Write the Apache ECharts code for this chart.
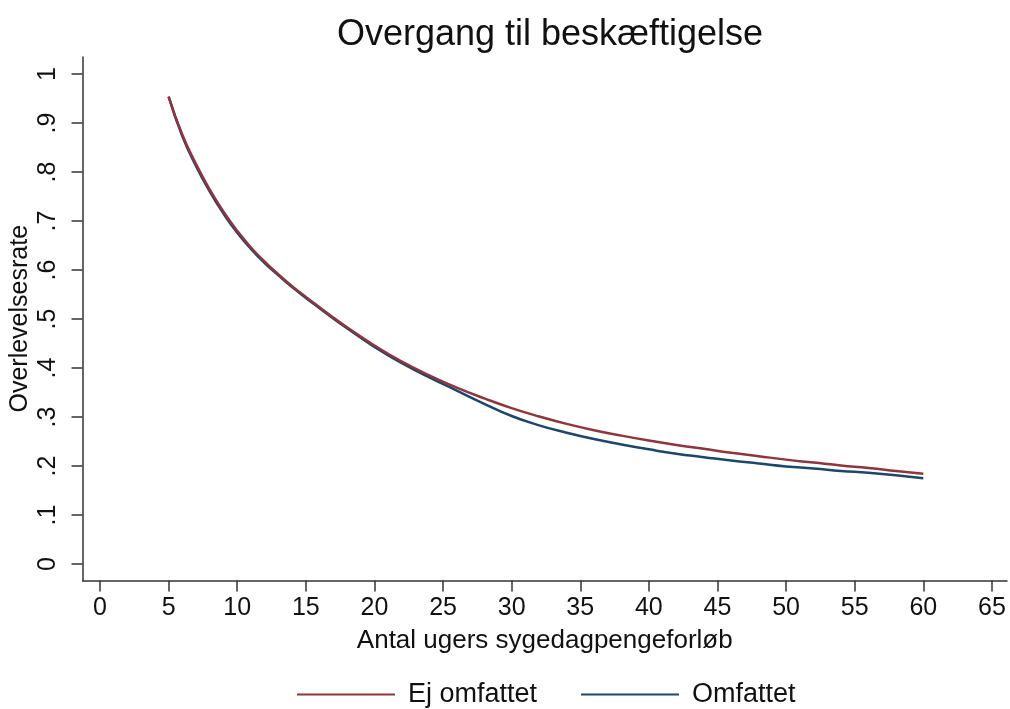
<!DOCTYPE html>
<html>
<head>
<meta charset="utf-8">
<title>Overgang til beskæftigelse</title>
<script src="https://cdn.jsdelivr.net/npm/echarts@6/dist/echarts.min.js"></script>
<style>
    html, body { margin: 0; padding: 0; background: #fff; }
    #chart { width: 1010px; height: 709px; }
</style>
</head>
<body>
<div id="chart"></div>
<script>
// uger (x) og overlevelsesrater
var weeks       = [5, 6, 7, 8, 9, 10, 11, 12, 13, 14, 15, 16, 17, 18, 20, 22, 24, 26, 28, 30, 32, 34, 36, 38, 40, 42, 44, 46, 48, 50, 52, 54, 56, 58, 60];
var ejOmfattet  = [0.954, 0.876, 0.816, 0.764, 0.719, 0.680, 0.646, 0.617, 0.591, 0.567, 0.545, 0.524, 0.503, 0.483, 0.446, 0.413, 0.385, 0.360, 0.338, 0.318, 0.301, 0.286, 0.273, 0.262, 0.252, 0.243, 0.235, 0.227, 0.220, 0.213, 0.207, 0.201, 0.196, 0.190, 0.184];
var omfattet    = [0.954, 0.873, 0.812, 0.760, 0.715, 0.676, 0.643, 0.614, 0.589, 0.565, 0.543, 0.522, 0.501, 0.481, 0.443, 0.410, 0.381, 0.354, 0.327, 0.302, 0.283, 0.268, 0.255, 0.244, 0.234, 0.225, 0.218, 0.211, 0.205, 0.199, 0.195, 0.190, 0.186, 0.181, 0.175];
var xTicks      = [0, 5, 10, 15, 20, 25, 30, 35, 40, 45, 50, 55, 60, 65];
var yTicks      = [0, 0.1, 0.2, 0.3, 0.4, 0.5, 0.6, 0.7, 0.8, 0.9, 1];

var seriesNames = ['Ej omfattet', 'Omfattet'];
var colors = ['#90353b', '#1a476f'];
var txt = '#111';
var font = 'Liberation Sans, Arial, Helvetica, sans-serif';

function pairs(ys) {
    var out = [];
    for (var i = 0; i < weeks.length; i++) {
        out.push([weeks[i], ys[i]]);
    }
    return out;
}

var chart = echarts.init(document.getElementById('chart'));
var option = {
    backgroundColor: '#fff',
    animation: false,
    textStyle: { fontFamily: font },
    title: {
        text: 'Overgang til beskæftigelse',
        left: 545,
        textAlign: 'center',
        top: 12,
        textStyle: { fontFamily: font, fontSize: 36, fontWeight: 'normal', color: txt }
    },
    grid: { left: 82.5, right: 3, top: 57, bottom: 128.5, containLabel: false, outerBoundsMode: 'none' },
    legend: {
        data: seriesNames,
        left: 292,
        top: 676,
        icon: 'rect',
        itemWidth: 98,
        itemHeight: 2,
        itemGap: 44,
        textStyle: { fontFamily: font, fontSize: 27, color: txt, padding: [0, 0, 0, 8] }
    },
    xAxis: {
        type: 'value',
        min: -1.276,
        max: 66.1,
        name: 'Antal ugers sygedagpengeforløb',
        nameLocation: 'middle',
        nameGap: 47,
        nameMoveOverlap: false,
        nameTextStyle: { fontFamily: font, fontSize: 26, color: txt },
        axisLine: { show: true, onZero: false, lineStyle: { color: '#333', width: 1.5 } },
        axisTick: { show: true, length: 11, customValues: xTicks, lineStyle: { color: '#333', width: 1.5 } },
        axisLabel: { customValues: xTicks, margin: 15, fontSize: 25, color: txt, fontFamily: font },
        splitLine: { show: false }
    },
    yAxis: {
        type: 'value',
        min: -0.0337,
        max: 1.0347,
        name: 'Overlevelsesrate',
        nameLocation: 'middle',
        nameRotate: 90,
        nameGap: 50,
        nameMoveOverlap: false,
        nameTextStyle: { fontFamily: font, fontSize: 25, color: txt },
        axisLine: { show: true, onZero: false, lineStyle: { color: '#333', width: 1.5 } },
        axisTick: { show: true, length: 11, customValues: yTicks, lineStyle: { color: '#333', width: 1.5 } },
        axisLabel: {
            customValues: yTicks,
            rotate: 90,
            margin: 22,
            fontSize: 25,
            color: txt,
            fontFamily: font,
            formatter: function (v) {
                var s = String(Math.round(v * 10) / 10);
                return s.replace(/^0\./, '.');
            }
        },
        splitLine: { show: false }
    },
    series: [
        {
            name: seriesNames[0],
            type: 'line',
            smooth: 0.5,
            symbol: 'none',
            z: 3,
            lineStyle: { color: colors[0], width: 2.5 },
            itemStyle: { color: colors[0] },
            data: pairs(ejOmfattet)
        },
        {
            name: seriesNames[1],
            type: 'line',
            smooth: 0.5,
            symbol: 'none',
            z: 2,
            lineStyle: { color: colors[1], width: 2.5 },
            itemStyle: { color: colors[1] },
            data: pairs(omfattet)
        }
    ]
};
chart.setOption(option);
</script>
</body>
</html>
